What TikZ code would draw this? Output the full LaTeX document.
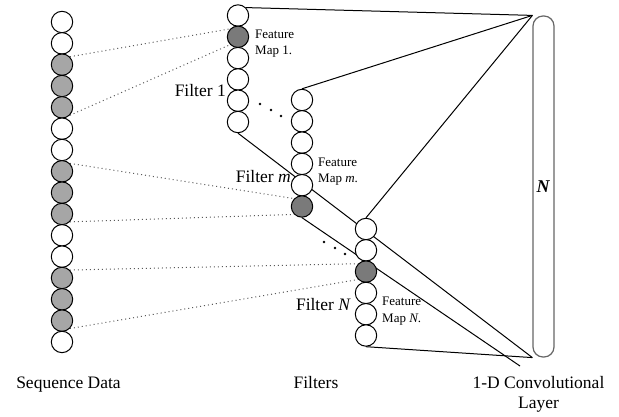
\documentclass[tikz,border=0pt]{standalone}
\usepackage{fontspec}
\setmainfont{Liberation Serif}
\usetikzlibrary{backgrounds}

\begin{document}
\begin{tikzpicture}[x=1pt, y=-1pt,
        cell/.style={circle, draw=black, line width=1pt, fill=white, minimum size=21.4pt, inner sep=0pt},
        seqcell/.style={cell, fill=black!35},
        mapcell/.style={cell, fill=black!52},
        link/.style={draw=black, line width=1pt},
        window/.style={draw=black!65, line width=1pt, dash pattern=on 1pt off 3pt},
        label/.style={font=\fontsize{17.5}{20}\selectfont, inner sep=0pt},
        maplabel/.style={font=\fontsize{13}{16.5}\selectfont, align=left, inner sep=0pt, anchor=west}
    ]
    \useasboundingbox (0,0) rectangle (619,417);

    % sequence data
    \foreach \s [count=\i] in {cell,cell,seqcell,seqcell,seqcell,cell,cell,seqcell,seqcell,seqcell,cell,cell,seqcell,seqcell,seqcell,cell}
        \node[\s] (seq-\i) at (62,{22+21.33*(\i-1)}) {};

    % filters
    \foreach \s [count=\i] in {cell,mapcell,cell,cell,cell,cell}
        \node[\s] (fa-\i) at (238,{15.5+21.3*(\i-1)}) {};
    \foreach \s [count=\i] in {cell,cell,cell,cell,cell,mapcell}
        \node[\s] (fm-\i) at (302,{100+21.3*(\i-1)}) {};
    \foreach \s [count=\i] in {cell,cell,mapcell,cell,cell,cell}
        \node[\s] (fn-\i) at (366,{229+21.3*(\i-1)}) {};

    % 1-D convolutional layer
    \node[draw=black!60, line width=1.2pt, rounded corners=10pt, minimum width=21pt, minimum height=341pt, inner sep=0pt,
          font=\fontsize{18}{20}\selectfont] (conv) at (543.5,186.5) {\textbf{\textit{N}}};
    \coordinate (overshoot) at (520,366);

    \begin{scope}[on background layer]
        \draw[link] (fa-1.north east) -- (conv.north west);
        \draw[link] (fm-1.north) -- (conv.north west);
        \draw[link] (fn-1.north) -- (conv.north west);
        \draw[link] (fa-6.south) -- (conv.south west);
        \draw[link] (fm-6.south) -- (overshoot);
        \draw[link] (fn-6.south) -- (conv.south west);
        % windows
        \draw[window] (seq-3.north east) -- (fa-2.north west);
        \draw[window] (seq-5.south east) -- (fa-2.south west);
        \draw[window] (seq-8.north east) -- (fm-6.north west);
        \draw[window] (seq-10.south east) -- (fm-6.south west);
        \draw[window] (seq-13.north east) -- (fn-3.north west);
        \draw[window] (seq-15.south east) -- (fn-3.south west);
    \end{scope}

    % dots
    \foreach \p in {(260,104),(271,110),(281,116),(324,242),(335,248),(345,254)}
        \fill \p circle (1.3);

    \node[label, anchor=base east] (filter-a) at (226,97) {Filter 1};
    \node[label, anchor=base east] (filter-m) at (291,183) {Filter \textit{m}};
    \node[label, anchor=base east] (filter-n) at (351,310) {Filter \textit{N}};
    \node[maplabel] (map-a) at (255,43.5) {Feature\\Map 1.};
    \node[maplabel] (map-m) at (318,171.5) {Feature\\Map \textit{m}.};
    \node[maplabel] (map-n) at (382,311) {Feature\\Map \textit{N}.};

    \node[label, anchor=base] (seq-label) at (68.5,388) {Sequence Data};
    \node[label, anchor=base] (filters-label) at (316,388) {Filters};
    \node[label, anchor=north, align=center] (conv-label) at (538.5,376) {1-D Convolutional\\Layer};
\end{tikzpicture}
\end{document}
